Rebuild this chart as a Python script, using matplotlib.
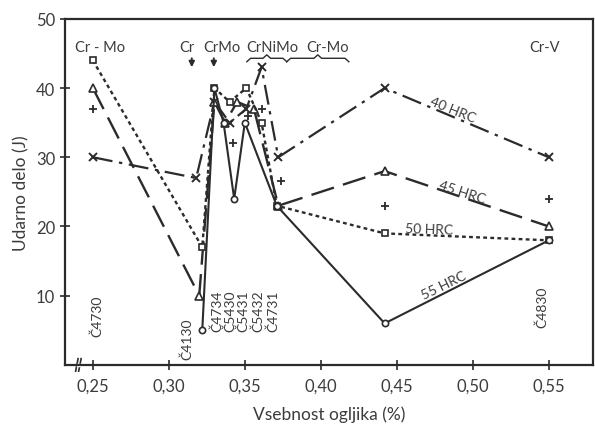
import matplotlib.pyplot as plt
from matplotlib.ticker import FuncFormatter

# Carbon content (%) and impact energy (J) for each hardness level
c_40 = [0.25, 0.318, 0.330, 0.340, 0.351, 0.361, 0.372, 0.442, 0.55]
e_40 = [30, 27, 38, 35, 37, 43, 30, 40, 30]

c_45 = [0.25, 0.320, 0.330, 0.337, 0.345, 0.356, 0.372, 0.442, 0.55]
e_45 = [40, 10, 38, 35, 38, 37, 23, 28, 20]

c_50 = [0.25, 0.322, 0.330, 0.340, 0.351, 0.361, 0.371, 0.442, 0.55]
e_50 = [44, 17, 40, 38, 40, 35, 23, 19, 18]

c_55 = [0.322, 0.330, 0.336, 0.343, 0.350, 0.371, 0.442, 0.55]
e_55 = [5, 40, 35, 24, 35, 23, 6, 18]

# loose points (+) without a connecting line
c_plus = [0.25, 0.342, 0.352, 0.361, 0.374, 0.442, 0.55]
e_plus = [37, 32, 36, 37, 26.5, 23, 24]

steels = ["Č4730", "Č4130", "Č4734", "Č5430", "Č5431", "Č5432", "Č4731", "Č4830"]
steel_x = [0.2526, 0.3118, 0.3316, 0.3400, 0.3487, 0.3586, 0.3684, 0.5454]
steel_y = [4.2, 0.9, 4.9, 4.9, 4.9, 4.9, 4.9, 5.5]

groups = ["Cr - Mo", "Cr", "CrMo", "CrNiMo", "Cr-Mo", "Cr-V"]
group_x = [0.2545, 0.3118, 0.3349, 0.3678, 0.4046, 0.5474]

hrc_labels = ["40 HRC", "45 HRC", "50 HRC", "55 HRC"]
hrc_pos = [(0.4865, 37.0), (0.4930, 25.0), (0.4710, 19.6), (0.4810, 11.6)]
hrc_rot = [-22, -18, -2, 26]

ink = "#2b2b2b"
txt = "#3c3c3c"
plt.rcParams["font.family"] = ["Lato", "DejaVu Sans"]

fig = plt.figure(figsize=(5.95, 4.31), dpi=100)
ax = fig.add_axes([0.109, 0.151, 0.8875, 0.803])

ax.plot(c_40, e_40, color=ink, lw=1.6, dashes=(9, 3, 1.5, 3),
        marker="x", ms=6, mew=1.4)
ax.plot(c_45, e_45, color=ink, lw=1.7, dashes=(10, 4),
        marker="^", ms=6, mfc="white", mew=1.2)
ax.plot(c_50, e_50, color=ink, lw=1.7, dashes=(1.6, 1.4),
        marker="s", ms=4.5, mfc="white", mew=1.2)
ax.plot(c_55, e_55, color=ink, lw=1.5,
        marker="o", ms=4.5, mfc="white", mew=1.2)
ax.plot(c_plus, e_plus, ls="none", color=ink, marker="+", ms=6, mew=1.3)

for lab, (x, y), r in zip(hrc_labels, hrc_pos, hrc_rot):
    ax.text(x, y, lab, rotation=r, ha="center", va="center",
            fontsize=10, color=txt)

for lab, x, y in zip(steels, steel_x, steel_y):
    ax.text(x, y, lab, rotation=90, ha="center", va="bottom",
            fontsize=10, color=txt)

for lab, x in zip(groups, group_x):
    ax.text(x, 45.9, lab, ha="center", va="center", fontsize=10.5, color=txt)

# arrows below the Cr and CrMo headers
for x in [0.3151, 0.3296]:
    ax.annotate("", xy=(x, 42.6), xytext=(x, 44.7),
                arrowprops=dict(arrowstyle="-|>", color=ink, lw=1.4,
                                mutation_scale=8))


def brace(x0, x1, y, h=0.5):
    xm = (x0 + x1) / 2
    d = 0.0025
    xs = [x0, x0 + d, xm - d, xm, xm + d, x1 - d, x1]
    ys = [y - h, y, y, y + h, y, y, y - h]
    ax.plot(xs, ys, color=ink, lw=1.0)


brace(0.3513, 0.3776, 44.3)
brace(0.3776, 0.4184, 44.3)

ax.set_xlim(0.2316, 0.5790)
ax.set_ylim(0, 50)
ax.set_xticks([0.25, 0.30, 0.35, 0.40, 0.45, 0.50, 0.55])
ax.set_yticks([10, 20, 30, 40, 50])
ax.xaxis.set_major_formatter(FuncFormatter(lambda v, p: f"{v:.2f}".replace(".", ",")))
ax.tick_params(direction="inout", length=7, width=1.2, colors=ink,
               labelcolor=txt, labelsize=12)
ax.tick_params(axis="x", pad=6)
for s in ax.spines.values():
    s.set_color(ink)
    s.set_linewidth(1.6)

# break marks on the carbon axis
for x in [0.2395, 0.2415]:
    ax.plot([x - 0.0008, x + 0.0008], [-0.9, 0.9], color=ink, lw=1.2,
            clip_on=False)
ax.plot([0.2400, 0.2411], [0, 0], color="white", lw=2.5, clip_on=False)

ax.set_xlabel("Vsebnost ogljika (%)", fontsize=12.5, color=txt, labelpad=8)
ax.set_ylabel("Udarno delo (J)", fontsize=12.5, color=txt, labelpad=5)

fig.savefig("out.png", dpi=100)
